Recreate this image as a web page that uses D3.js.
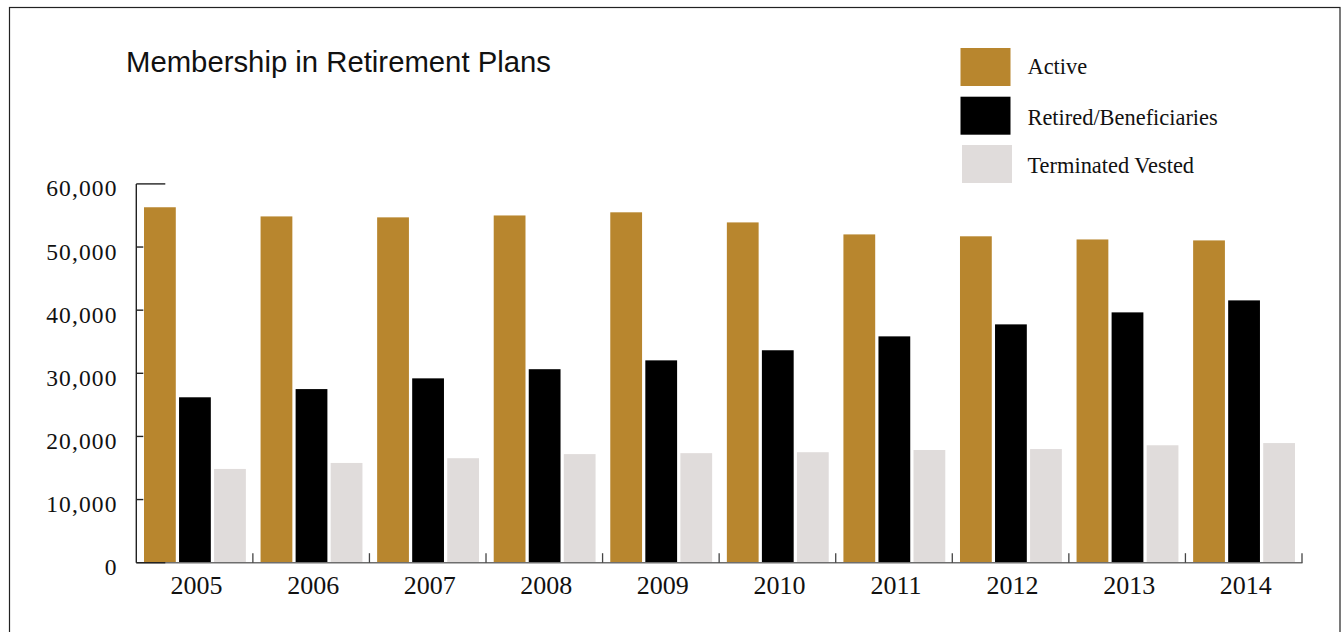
<!DOCTYPE html>
<html>
<head>
<meta charset="utf-8">
<script src="https://cdn.jsdelivr.net/npm/d3@7"></script>
<style>
  html, body { margin: 0; padding: 0; background: #fff; }
  svg { display: block; }
</style>
</head>
<body>
<svg id="chart" width="1343" height="632"></svg>
<script>
// Plan membership by year
const years = ["2005", "2006", "2007", "2008", "2009", "2010", "2011", "2012", "2013", "2014"];
const seriesNames = ["Active", "Retired/Beneficiaries", "Terminated Vested"];
const activeValues = [56300, 54850, 54700, 55000, 55500, 53900, 52000, 51700, 51200, 51050];
const retiredValues = [26200, 27500, 29200, 30650, 32050, 33650, 35850, 37750, 39650, 41550];
const terminatedValues = [14850, 15800, 16550, 17200, 17350, 17500, 17850, 18000, 18600, 18950];
const yTicks = [0, 10000, 20000, 30000, 40000, 50000, 60000];
const colors = ["#b8862e", "#000000", "#e0dcdb"];

const seriesValues = [activeValues, retiredValues, terminatedValues];
const rows = years.map((yr, i) => ({
  year: yr,
  values: seriesNames.map((s, k) => ({ key: s, value: seriesValues[k][i] }))
}));

const svg = d3.select("#chart");
const serif = "'Liberation Serif', 'Times New Roman', serif";

// outer frame
svg.append("rect")
  .attr("x", 9.5).attr("y", 7.5)
  .attr("width", 1330.5).attr("height", 640)
  .attr("fill", "none").attr("stroke", "#222").attr("stroke-width", 1.2);

// title
svg.append("text")
  .attr("x", 126).attr("y", 72)
  .attr("font-family", "'Liberation Sans', Arial, Helvetica, sans-serif")
  .attr("font-size", 29.3)
  .attr("fill", "#111")
  .text("Membership in Retirement Plans");

const plotLeft = 136.3, plotRight = 1302, plotBottom = 562.7, plotTop = 183.9;

const x0 = d3.scaleBand().domain(years).range([plotLeft, plotRight]).paddingInner(0).paddingOuter(0);
const x1 = d3.scaleBand().domain(seriesNames)
  .range([7.7, x0.bandwidth() - 7]).paddingInner(0.093).paddingOuter(0);
const y = d3.scaleLinear().domain([0, 60000]).range([plotBottom, plotTop]);

// bars
const groups = svg.append("g").selectAll("g")
  .data(rows).join("g")
  .attr("transform", d => `translate(${x0(d.year)},0)`);

groups.selectAll("rect")
  .data(d => d.values).join("rect")
  .attr("x", d => x1(d.key))
  .attr("width", x1.bandwidth())
  .attr("y", d => y(d.value))
  .attr("height", d => y(0) - y(d.value))
  .attr("fill", (d, i) => colors[i]);

// x axis: baseline with boundary ticks between year groups
const xAxisG = svg.append("g");
xAxisG.append("line")
  .attr("x1", plotLeft).attr("x2", plotRight + 0.5)
  .attr("y1", plotBottom).attr("y2", plotBottom)
  .attr("stroke", "#6e6e6e").attr("stroke-width", 1.6);
const boundaries = years.slice(1).map(yr => x0(yr)).concat([plotRight]);
xAxisG.selectAll("line.b")
  .data(boundaries).join("line")
  .attr("class", "b")
  .attr("x1", d => d).attr("x2", d => d)
  .attr("y1", plotBottom).attr("y2", plotBottom - 9.5)
  .attr("stroke", "#444").attr("stroke-width", 1.3);
xAxisG.selectAll("text")
  .data(years).join("text")
  .attr("x", d => x0(d) + x0.bandwidth() / 2 + 2)
  .attr("y", 594)
  .attr("text-anchor", "middle")
  .attr("font-family", serif)
  .attr("font-size", 26)
  .attr("fill", "#111")
  .text(d => d);

// y axis
const yAxisG = svg.append("g");
yAxisG.append("line")
  .attr("x1", plotLeft).attr("x2", plotLeft)
  .attr("y1", plotTop).attr("y2", plotBottom)
  .attr("stroke", "#222").attr("stroke-width", 1.4);
yAxisG.selectAll("line.t")
  .data(yTicks).join("line")
  .attr("class", "t")
  .attr("x1", plotLeft)
  .attr("x2", d => (d === 0 || d === 60000) ? plotLeft + 29 : plotLeft + 7)
  .attr("y1", d => y(d)).attr("y2", d => y(d))
  .attr("stroke", "#222").attr("stroke-width", 1.4);
yAxisG.selectAll("text")
  .data(yTicks).join("text")
  .attr("x", 117.5)
  .attr("y", d => y(d) + 12.5)
  .attr("text-anchor", "end")
  .attr("font-family", serif)
  .attr("font-size", 23.5)
  .attr("letter-spacing", 1.1)
  .attr("fill", "#111")
  .text(d => d3.format(",")(d));

// legend: swatches and labels
const swatchY = [48, 96.7, 145];
const labelY = [73.5, 124.5, 173];
const legend = svg.append("g").selectAll("g")
  .data(seriesNames).join("g");
legend.append("rect")
  .attr("x", (d, i) => i === 2 ? 962 : 960.5)
  .attr("y", (d, i) => swatchY[i])
  .attr("width", 50).attr("height", 38)
  .attr("fill", (d, i) => colors[i]);
legend.append("text")
  .attr("x", 1027.5)
  .attr("y", (d, i) => labelY[i])
  .attr("font-family", serif)
  .attr("font-size", 22.4)
  .attr("fill", "#111")
  .text(d => d);
</script>
</body>
</html>
